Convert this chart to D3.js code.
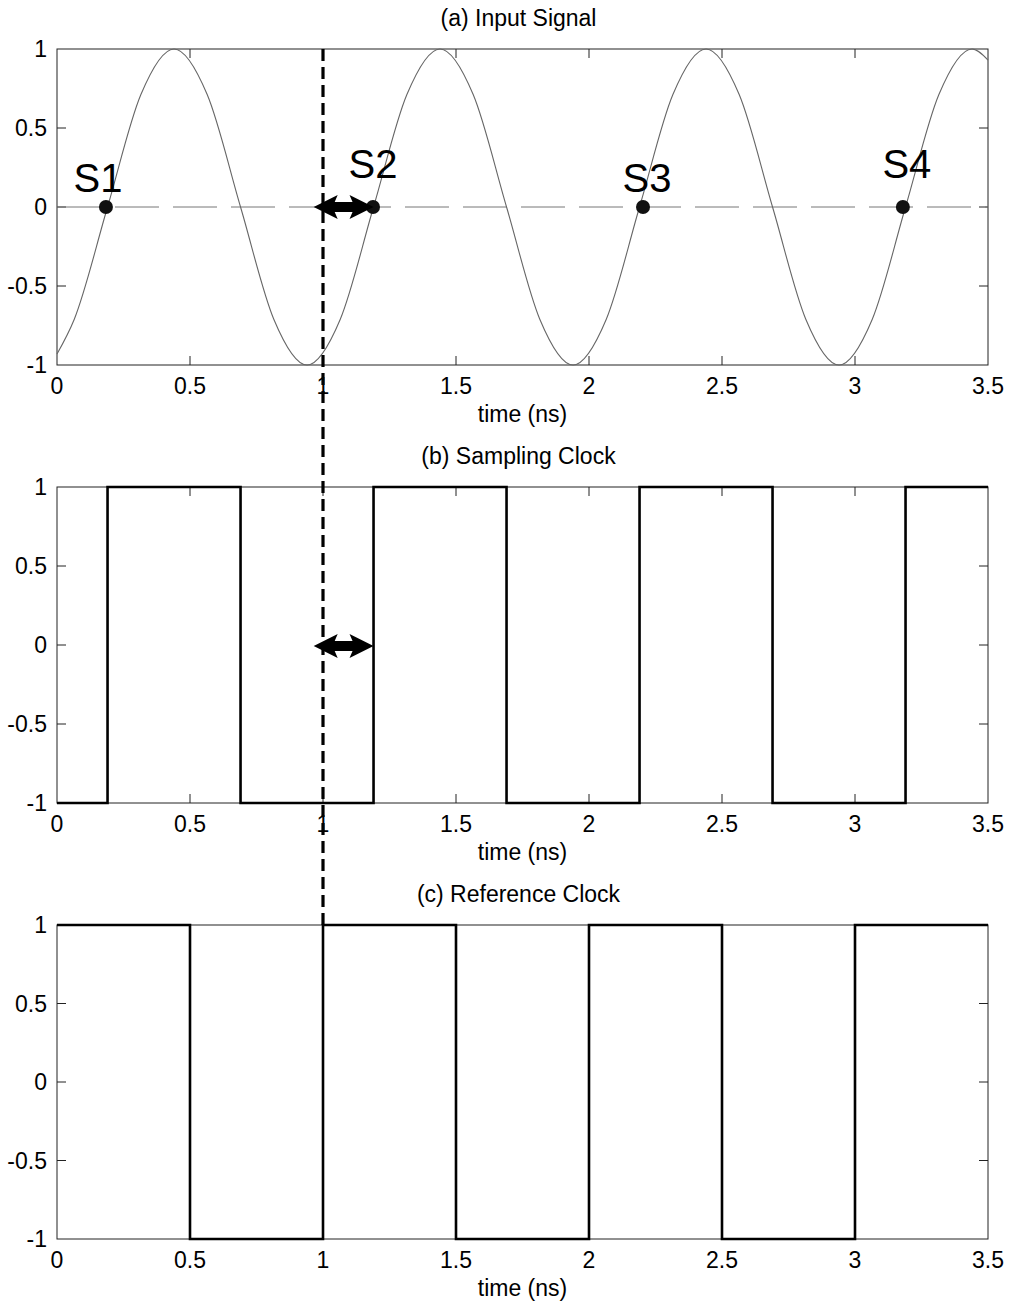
<!DOCTYPE html>
<html><head><meta charset="utf-8">
<script src="https://cdn.jsdelivr.net/npm/d3@7"></script>
<style>
body{margin:0;background:#fff}
text{font-family:"Liberation Sans",Arial,Helvetica,sans-serif;fill:#000}
</style>
</head><body>
<svg id="chart" width="1011" height="1307"></svg>
<script>
// ---------------- data ----------------
const xTicks = [0, 0.5, 1, 1.5, 2, 2.5, 3, 3.5];
const xTickLabels = ["0", "0.5", "1", "1.5", "2", "2.5", "3", "3.5"];
const yTicks = [-1, -0.5, 0, 0.5, 1];
const yTickLabels = ["-1", "-0.5", "0", "0.5", "1"];
const panelTitles = ["(a) Input Signal", "(b) Sampling Clock", "(c) Reference Clock"];
const xAxisLabel = "time (ns)";

// input signal (zero crossings, peaks, troughs and mid points)
const signalTime  = [0, 0.065, 0.19, 0.315, 0.44, 0.565, 0.69, 0.815, 0.94, 1.065, 1.19, 1.315, 1.44, 1.565, 1.69, 1.815, 1.94, 2.065, 2.19, 2.315, 2.44, 2.565, 2.69, 2.815, 2.94, 3.065, 3.19, 3.315, 3.44, 3.5];
const signalValue = [-0.93, -0.71, 0, 0.71, 1, 0.71, 0, -0.71, -1, -0.71, 0, 0.71, 1, 0.71, 0, -0.71, -1, -0.71, 0, 0.71, 1, 0.71, 0, -0.71, -1, -0.71, 0, 0.71, 1, 0.93];

// sample points
const sampleNames = ["S1", "S2", "S3", "S4"];
const sampleTime  = [0.184, 1.188, 2.203, 3.18];
const sampleValue = [0, 0, 0, 0];

// sampling clock (step after)
const samplingTime  = [0, 0.19, 0.69, 1.19, 1.69, 2.19, 2.69, 3.19, 3.5];
const samplingValue = [-1, 1, -1, 1, -1, 1, -1, 1, 1];

// reference clock (step after)
const referenceTime  = [0, 0.5, 1, 1.5, 2, 2.5, 3, 3.5];
const referenceValue = [1, -1, 1, -1, 1, -1, 1, 1];

// annotations
const markerTime = 1;              // dashed vertical line (reference clock edge)
const offsetArrowStart = 0.965;    // double arrow: sampling offset
const offsetArrowEnd = 1.19;

// ---------------- layout ----------------
const svg = d3.select("#chart");
const left = 57, right = 988;
const panelTop = [49, 487, 925];
const panelBottom = [365, 803, 1239];
const labelDx = [-8, 0, 4, 4];
const labelDy = [-15, -29, -15, -29];

const x = d3.scaleLinear().domain([0, 3.5]).range([left, right]);
const yScales = panelTop.map((t, i) => d3.scaleLinear().domain([-1, 1]).range([panelBottom[i], t]));

function drawFrame(i) {
  const y = yScales[i];
  const g = svg.append("g");
  const top = panelTop[i], bot = panelBottom[i];
  const tl = 9;
  g.append("rect").attr("x", left).attr("y", top).attr("width", right - left).attr("height", bot - top)
    .attr("fill", "none").attr("stroke", "#222").attr("stroke-width", 1);
  xTicks.forEach((t, k) => {
    if (k > 0 && k < xTicks.length - 1) {
      g.append("line").attr("x1", x(t)).attr("x2", x(t)).attr("y1", bot).attr("y2", bot - tl).attr("stroke", "#222");
      g.append("line").attr("x1", x(t)).attr("x2", x(t)).attr("y1", top).attr("y2", top + tl).attr("stroke", "#222");
    }
    g.append("text").attr("x", x(t)).attr("y", bot + 29).attr("text-anchor", "middle")
      .attr("font-size", 23).text(xTickLabels[k]);
  });
  yTicks.forEach((v, k) => {
    if (k > 0 && k < yTicks.length - 1) {
      g.append("line").attr("x1", left).attr("x2", left + tl).attr("y1", y(v)).attr("y2", y(v)).attr("stroke", "#222");
      g.append("line").attr("x1", right).attr("x2", right - tl).attr("y1", y(v)).attr("y2", y(v)).attr("stroke", "#222");
    }
    g.append("text").attr("x", 47).attr("y", y(v)).attr("dy", "0.36em").attr("text-anchor", "end")
      .attr("font-size", 23).text(yTickLabels[k]);
  });
  g.append("text").attr("x", (left + right) / 2).attr("y", bot + 57).attr("text-anchor", "middle")
    .attr("font-size", 23).text(xAxisLabel);
  g.append("text").attr("x", (left + right) / 2 - 4).attr("y", top - 23).attr("text-anchor", "middle")
    .attr("font-size", 23).text(panelTitles[i]);
}

[0, 1, 2].forEach(drawFrame);

// ---- panel a ----
const ya = yScales[0];
svg.append("line").attr("x1", left).attr("x2", right).attr("y1", ya(0)).attr("y2", ya(0))
  .attr("stroke", "#777").attr("stroke-width", 1).attr("stroke-dasharray", "44,14");

const sigData = signalTime.map((t, i) => [t, signalValue[i]]);
svg.append("path").datum(sigData)
  .attr("d", d3.line().x(d => x(d[0])).y(d => ya(d[1])).curve(d3.curveMonotoneX))
  .attr("fill", "none").attr("stroke", "#666").attr("stroke-width", 1.1);

sampleTime.forEach((t, i) => {
  svg.append("circle").attr("cx", x(t)).attr("cy", ya(sampleValue[i])).attr("r", 7).attr("fill", "#111");
  svg.append("text").attr("x", x(t) + labelDx[i]).attr("y", ya(sampleValue[i]) + labelDy[i])
    .attr("text-anchor", "middle").attr("font-size", 40).text(sampleNames[i]);
});

// ---- panel b ----
const yb = yScales[1];
const sampData = samplingTime.map((t, i) => [t, samplingValue[i]]);
svg.append("path").datum(sampData)
  .attr("d", d3.line().x(d => x(d[0])).y(d => yb(d[1])).curve(d3.curveStepAfter))
  .attr("fill", "none").attr("stroke", "#000").attr("stroke-width", 2.6);

// ---- panel c ----
const yc = yScales[2];
const refData = referenceTime.map((t, i) => [t, referenceValue[i]]);
svg.append("path").datum(refData)
  .attr("d", d3.line().x(d => x(d[0])).y(d => yc(d[1])).curve(d3.curveStepAfter))
  .attr("fill", "none").attr("stroke", "#000").attr("stroke-width", 2.6);

// ---- dashed marker line ----
svg.append("line").attr("x1", x(markerTime)).attr("x2", x(markerTime))
  .attr("y1", panelTop[0]).attr("y2", panelTop[2])
  .attr("stroke", "#000").attr("stroke-width", 3.2).attr("stroke-dasharray", "12,6");

// ---- double arrows ----
function dblArrow(x1, x2, y) {
  const L = 24, H = 12, s = 5, n = 3;
  const pts = [[x1, y], [x1 + L, y - H], [x1 + L - n, y - s], [x2 - L + n, y - s], [x2 - L, y - H], [x2, y],
               [x2 - L, y + H], [x2 - L + n, y + s], [x1 + L - n, y + s], [x1 + L, y + H]];
  svg.append("path").attr("d", "M" + pts.map(p => p.join(",")).join("L") + "Z").attr("fill", "#000");
}
dblArrow(x(offsetArrowStart), x(offsetArrowEnd), ya(0));
dblArrow(x(offsetArrowStart), x(offsetArrowEnd), yb(0) + 1);
</script>
</body></html>
